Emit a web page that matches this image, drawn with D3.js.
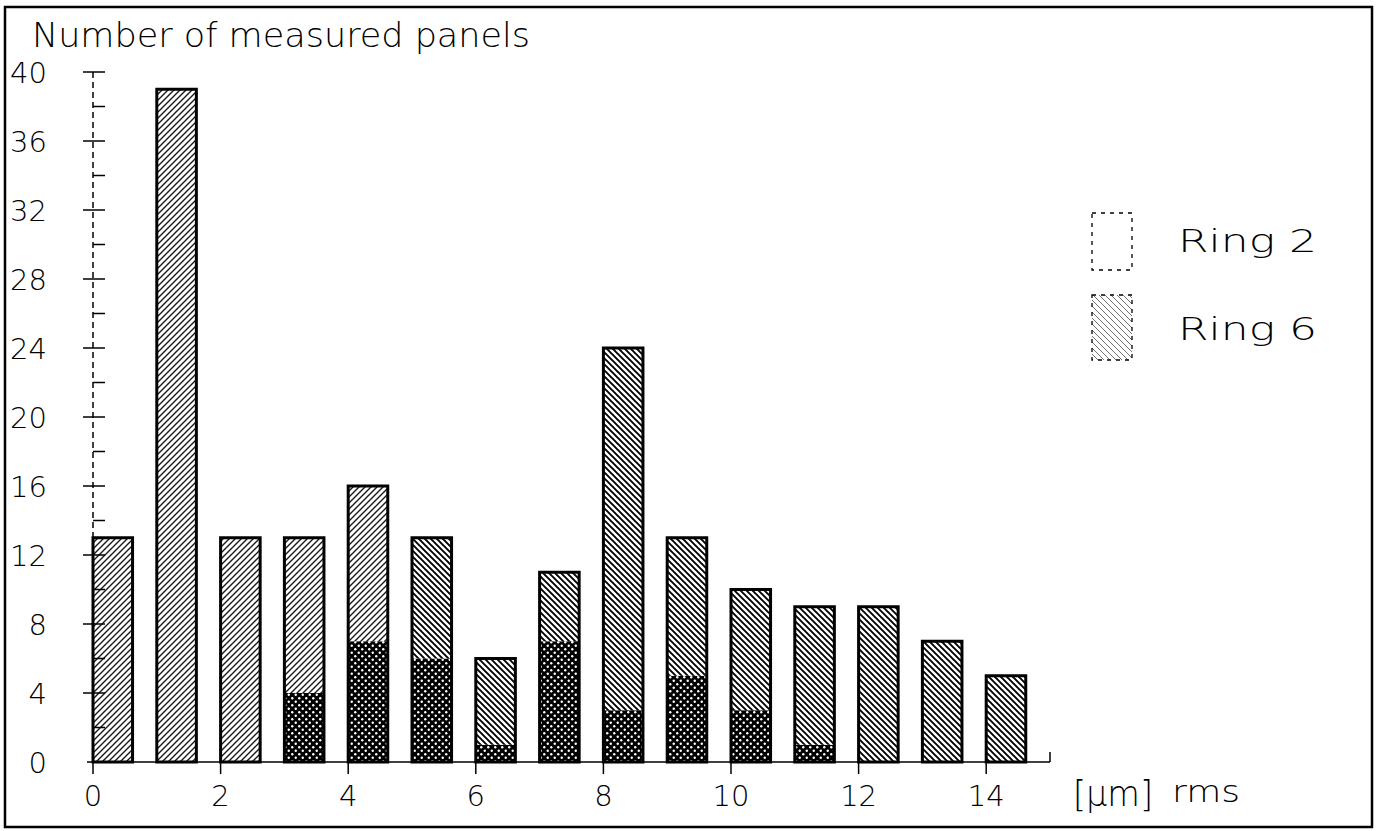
<!DOCTYPE html>
<html>
<head>
<meta charset="utf-8">
<script src="https://cdn.jsdelivr.net/npm/d3@7"></script>
<style>
  body { margin: 0; background: #fff; }
  text { font-family: "DejaVu Sans", sans-serif; font-weight: 200; fill: #000; }
</style>
</head>
<body>
<div id="chart"></div>
<script>
// histogram bins (um rms), counts per ring
var bins  = [0, 1, 2, 3, 4, 5, 6, 7, 8, 9, 10, 11, 12, 13, 14];
var ring2 = [13, 39, 13, 13, 16, 6, 1, 7, 3, 5, 3, 1, 0, 0, 0];
var ring6 = [0, 0, 0, 4, 7, 13, 6, 11, 24, 13, 10, 9, 9, 7, 5];
var xTicks = [0, 2, 4, 6, 8, 10, 12, 14];
var yTicks = [0, 4, 8, 12, 16, 20, 24, 28, 32, 36, 40];
var legendNames = ["Ring 2", "Ring 6"];

var width = 1377, height = 831;

var svg = d3.select("#chart")
    .append("svg")
    .attr("width", width)
    .attr("height", height);

var x = d3.scaleLinear().domain([0, 15]).range([93, 1050]);
var y = d3.scaleLinear().domain([0, 40]).range([762, 72]);

// hatch patterns
var defs = svg.append("defs");

function hatch(id, dir, sw, op) {
    var p = defs.append("pattern")
        .attr("id", id)
        .attr("patternUnits", "userSpaceOnUse")
        .attr("width", 6).attr("height", 6);
    p.append("rect").attr("width", 6).attr("height", 6).attr("fill", "#fff");
    var d = dir > 0 ? "M-1,7 L7,-1 M-4,4 L4,-4 M2,10 L10,2" : "M-1,-1 L7,7 M-4,2 L2,8 M4,-2 L10,4";
    p.append("path").attr("d", d)
        .attr("stroke", "#000")
        .attr("stroke-width", sw)
        .attr("opacity", op);
}
hatch("fwd", 1, 1.4, 0.9);
hatch("back", -1, 1.9, 1);
hatch("backLight", -1, 1, 0.55);

var cross = defs.append("pattern")
    .attr("id", "cross")
    .attr("patternUnits", "userSpaceOnUse")
    .attr("width", 7).attr("height", 7);
cross.append("rect").attr("width", 7).attr("height", 7).attr("fill", "#000");
cross.append("circle").attr("cx", 1.75).attr("cy", 1.75).attr("r", 1.2).attr("fill", "#fff");
cross.append("circle").attr("cx", 5.25).attr("cy", 5.25).attr("r", 1.2).attr("fill", "#fff");

// outer frame
svg.append("rect")
    .attr("x", 5).attr("y", 7)
    .attr("width", 1367).attr("height", 820)
    .attr("fill", "none")
    .attr("stroke", "#000")
    .attr("stroke-width", 2.5);

// title
svg.append("text")
    .attr("x", 32).attr("y", 47)
    .attr("font-size", 33)
    .attr("textLength", 498)
    .attr("lengthAdjust", "spacingAndGlyphs")
    .text("Number of measured panels");

// bars
var barW = 0.62;
var g = svg.append("g");
bins.forEach(function(b, i) {
    var a = ring2[i], c = ring6[i];
    var lo = Math.min(a, c), hi = Math.max(a, c);
    if (lo > 0) {
        g.append("rect")
            .attr("x", x(b)).attr("width", x(b + barW) - x(b))
            .attr("y", y(lo)).attr("height", y(0) - y(lo))
            .attr("fill", "url(#cross)");
    }
    if (hi > lo) {
        g.append("rect")
            .attr("x", x(b)).attr("width", x(b + barW) - x(b))
            .attr("y", y(hi)).attr("height", y(lo) - y(hi))
            .attr("fill", a > c ? "url(#fwd)" : "url(#back)");
    }
    g.append("rect")
        .attr("x", x(b)).attr("width", x(b + barW) - x(b))
        .attr("y", y(hi)).attr("height", y(0) - y(hi))
        .attr("fill", "none")
        .attr("stroke", "#000")
        .attr("stroke-width", 3);
});

// y axis
var yAxis = svg.append("g");
yAxis.append("line")
    .attr("x1", x(0)).attr("x2", x(0))
    .attr("y1", y(40)).attr("y2", y(0))
    .attr("stroke", "#000").attr("stroke-width", 1.5)
    .attr("stroke-dasharray", "6,4");
d3.range(2, 40, 4).forEach(function(v) {
    yAxis.append("line")
        .attr("x1", x(0)).attr("x2", x(0) + 12)
        .attr("y1", y(v)).attr("y2", y(v))
        .attr("stroke", "#000").attr("stroke-width", 1.5);
});
yTicks.forEach(function(v) {
    if (v > 0) {
        yAxis.append("line")
            .attr("x1", x(0) - 10).attr("x2", x(0) + 12)
            .attr("y1", y(v)).attr("y2", y(v))
            .attr("stroke", "#000").attr("stroke-width", 1.5);
    }
    yAxis.append("text")
        .attr("x", 47).attr("y", y(v) + 1)
        .attr("dy", "0.36em")
        .attr("text-anchor", "end")
        .attr("font-size", 29)
        .text(v);
});

// x axis
var xAxis = svg.append("g");
xAxis.append("line")
    .attr("x1", x(0) - 6).attr("x2", x(15))
    .attr("y1", y(0)).attr("y2", y(0))
    .attr("stroke", "#000").attr("stroke-width", 1.5);
xAxis.append("line")
    .attr("x1", x(15)).attr("x2", x(15))
    .attr("y1", y(0)).attr("y2", y(0) - 10)
    .attr("stroke", "#000").attr("stroke-width", 1.5);
xTicks.forEach(function(v) {
    xAxis.append("line")
        .attr("x1", x(v)).attr("x2", x(v))
        .attr("y1", y(0)).attr("y2", y(0) + 12)
        .attr("stroke", "#000").attr("stroke-width", 1.5);
    xAxis.append("text")
        .attr("x", x(v)).attr("y", 806)
        .attr("text-anchor", "middle")
        .attr("font-size", 29)
        .text(v);
});
svg.append("text")
    .attr("x", 1073).attr("y", 806)
    .attr("font-size", 36)
    .attr("textLength", 80)
    .attr("lengthAdjust", "spacingAndGlyphs")
    .text("[\u03bcm]");
svg.append("text")
    .attr("x", 1172).attr("y", 802)
    .attr("font-size", 30)
    .attr("textLength", 68)
    .attr("lengthAdjust", "spacingAndGlyphs")
    .text("rms");

// legend
var legend = svg.append("g");
legend.append("rect")
    .attr("x", 1092).attr("y", 213).attr("width", 40).attr("height", 57)
    .attr("fill", "none")
    .attr("stroke", "#000").attr("stroke-width", 1.3)
    .attr("stroke-dasharray", "4,5");
legend.append("rect")
    .attr("x", 1092).attr("y", 295).attr("width", 40).attr("height", 65)
    .attr("fill", "url(#backLight)")
    .attr("stroke", "#000").attr("stroke-width", 1.3)
    .attr("stroke-dasharray", "4,5");
legendNames.forEach(function(name, i) {
    legend.append("text")
        .attr("x", 1178).attr("y", [240, 328][i])
        .attr("dy", "0.36em")
        .attr("font-family", "DejaVu Sans Mono")
        .attr("font-size", 32)
        .attr("textLength", 139)
        .attr("lengthAdjust", "spacingAndGlyphs")
        .text(name);
});
</script>
</body>
</html>
